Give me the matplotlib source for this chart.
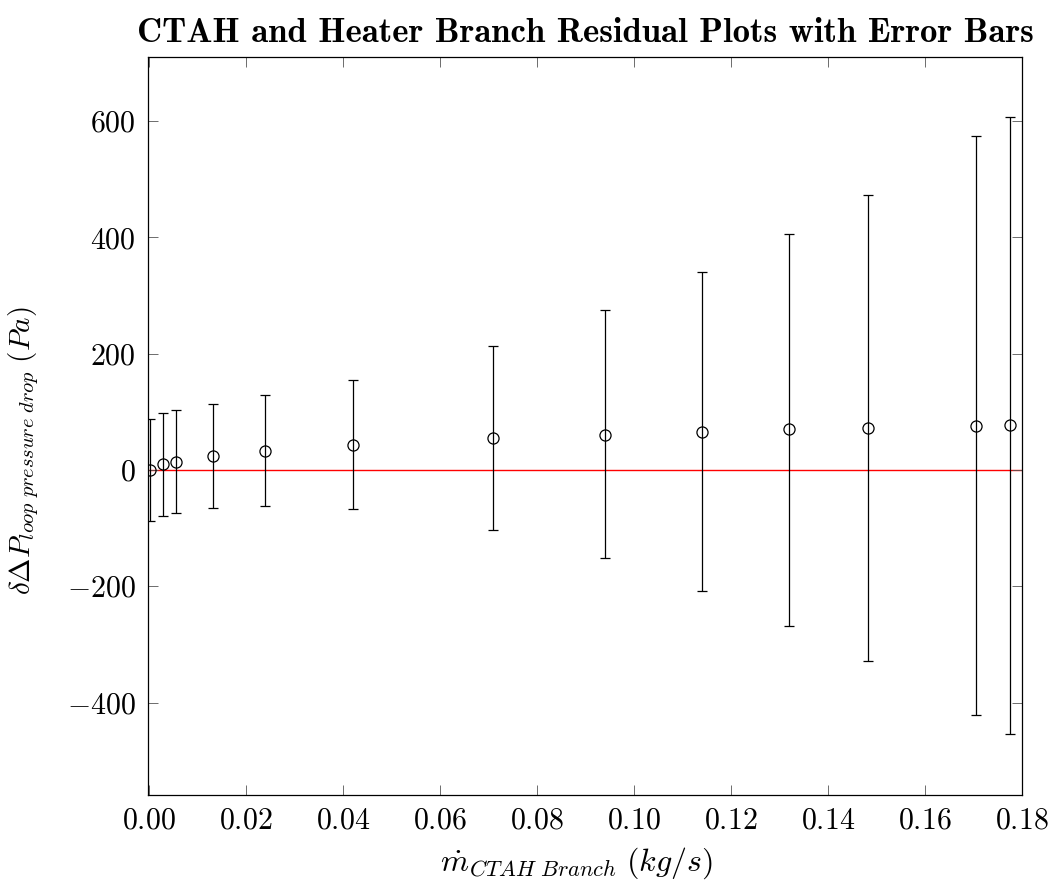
import matplotlib
matplotlib.use("Agg")
import matplotlib.pyplot as plt
from matplotlib.ticker import FuncFormatter, MultipleLocator

plt.rcParams["mathtext.fontset"] = "cm"
plt.rcParams["font.family"] = ["cmr10", "DejaVu Serif"]
plt.rcParams["axes.formatter.use_mathtext"] = True

# mass flow rate through CTAH branch (kg/s)
mass_flow = [0.0002, 0.0029, 0.0056, 0.0131, 0.0239, 0.0420, 0.0709,
             0.0940, 0.1140, 0.1320, 0.1482, 0.1705, 0.1774]
# residual of loop pressure drop (Pa)
residual = [0.0, 10.3, 14.3, 24.6, 33.2, 43.5, 54.4,
            60.7, 65.0, 70.0, 72.2, 76.2, 77.4]
# error bar ends
err_top = [88, 97, 103, 114, 129, 155, 213, 275, 340, 406, 472, 574, 607]
err_bottom = [-88, -79, -74, -66, -62, -68, -103, -152, -208, -268, -329, -422, -454]

lower = [r - b for r, b in zip(residual, err_bottom)]
upper = [t - r for r, t in zip(residual, err_top)]

fig = plt.figure(figsize=(10.56, 8.84), dpi=100)
ax = fig.add_axes([0.140, 0.1007, 0.828, 0.8348])

ax.axhline(0, color="red", lw=1.0, zorder=1)
ax.errorbar(mass_flow, residual, yerr=[lower, upper], fmt="o",
            color="black", mfc="none", mec="black", ms=8, mew=0.9,
            elinewidth=0.9, capsize=3.8, capthick=0.9, zorder=2)

ax.set_xlim(-0.0003, 0.18)
ax.set_ylim(-559, 710)
ax.xaxis.set_major_locator(MultipleLocator(0.02))
ax.yaxis.set_major_locator(MultipleLocator(200))
ax.xaxis.set_major_formatter(FuncFormatter(lambda v, p: f"${v:.2f}$"))
ax.yaxis.set_major_formatter(FuncFormatter(lambda v, p: f"${v:.0f}$"))
ax.tick_params(direction="in", top=True, right=True, length=7,
               width=0.6, color="#555555", labelsize=21.5, pad=9)
for s in ax.spines.values():
    s.set_linewidth(0.9)

ax.set_xlabel(r"$\dot{m}_{CTAH\ Branch}\ (kg/s)$", fontsize=23)
ax.xaxis.set_label_coords(0.49, -0.069)
ax.set_ylabel(r"$\delta\Delta P_{loop\ pressure\ drop}\ (Pa)$", fontsize=21)
ax.yaxis.set_label_coords(-0.122, 0.466)
ax.set_title("CTAH and Heater Branch Residual Plots with Error Bars",
             fontsize=25, fontfamily="cmb10", pad=11, x=0.5)

fig.savefig("out.png", dpi=100)
